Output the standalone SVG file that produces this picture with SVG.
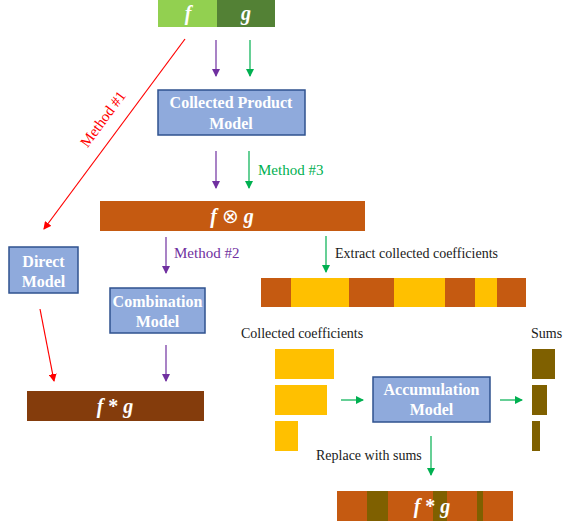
<svg xmlns="http://www.w3.org/2000/svg" width="564" height="524" viewBox="0 0 564 524">
  <style>
    text { font-family: "Liberation Serif", "Times New Roman", serif; }
    .box { fill: #8FAADC; stroke: #2F528F; stroke-width: 1.5; }
    .boxtxt { font-size: 16px; font-weight: bold; fill: #FFFFFF; text-anchor: middle; }
    .math { font-size: 20px; font-weight: bold; font-style: italic; fill: #FFFFFF; text-anchor: middle; }
    .lbl { font-size: 14px; fill: #1A1A1A; }
    .method { font-size: 15px; }
    .red { stroke: #FF0000; stroke-width: 1.2; fill: none; marker-end: url(#ahRed); }
    .pur { stroke: #7030A0; stroke-width: 1.2; fill: none; marker-end: url(#ahPur); }
    .grn { stroke: #00B050; stroke-width: 1.2; fill: none; marker-end: url(#ahGrn); }
    .orange { fill: #C55A11; }
    .yellow { fill: #FFC000; }
    .olive { fill: #7F6000; }
  </style>
  <defs>
    <marker id="ahRed" markerWidth="8" markerHeight="8" refX="7" refY="4" orient="auto" markerUnits="userSpaceOnUse">
      <path d="M0,0 L8,4 L0,8 Z" fill="#FF0000"/>
    </marker>
    <marker id="ahPur" markerWidth="8" markerHeight="8" refX="7" refY="4" orient="auto" markerUnits="userSpaceOnUse">
      <path d="M0,0 L8,4 L0,8 Z" fill="#7030A0"/>
    </marker>
    <marker id="ahGrn" markerWidth="8" markerHeight="8" refX="7" refY="4" orient="auto" markerUnits="userSpaceOnUse">
      <path d="M0,0 L8,4 L0,8 Z" fill="#00B050"/>
    </marker>
  </defs>

  <!-- inputs f and g -->
  <g id="inputs">
    <rect x="158" y="0" width="59" height="27" fill="#92D050"/>
    <rect x="217" y="0" width="58" height="27" fill="#538135"/>
    <text class="math" x="188" y="20">f</text>
    <text class="math" x="246" y="20">g</text>
  </g>

  <g id="collectedProductModel">
    <rect class="box" x="158" y="90" width="147" height="45"/>
    <text class="boxtxt" x="231" y="108">Collected Product</text>
    <text class="boxtxt" x="231" y="129">Model</text>
  </g>

  <g id="collectedProduct">
    <rect class="orange" x="100" y="201" width="265" height="30"/>
    <text x="232" y="223" font-size="20" fill="#FFFFFF" text-anchor="middle"><tspan font-weight="bold" font-style="italic">f</tspan> ⊗ <tspan font-weight="bold" font-style="italic">g</tspan></text>
  </g>

  <g id="directModel">
    <rect class="box" x="9" y="247" width="69" height="46"/>
    <text class="boxtxt" x="43.5" y="267">Direct</text>
    <text class="boxtxt" x="43.5" y="287">Model</text>
  </g>

  <g id="combinationModel">
    <rect class="box" x="110" y="288" width="95" height="45"/>
    <text class="boxtxt" x="157.5" y="307">Combination</text>
    <text class="boxtxt" x="157.5" y="327">Model</text>
  </g>

  <g id="result">
    <rect x="27" y="391" width="177" height="30" fill="#843C0C"/>
    <text class="math" x="115" y="413" font-size="19">f <tspan font-style="normal">*</tspan> g</text>
  </g>

  <g id="extractedCoefficients">
    <rect class="orange" x="261" y="278" width="265" height="29"/>
    <rect class="yellow" x="291" y="278" width="58" height="29"/>
    <rect class="yellow" x="394" y="278" width="51" height="29"/>
    <rect class="yellow" x="475" y="278" width="22" height="29"/>
  </g>

  <g id="collectedCoefficients">
    <text class="lbl" x="241" y="338">Collected coefficients</text>
    <rect class="yellow" x="275" y="349" width="59" height="30"/>
    <rect class="yellow" x="275" y="385" width="52" height="30"/>
    <rect class="yellow" x="275" y="421" width="23" height="30"/>
  </g>

  <g id="accumulationModel">
    <rect class="box" x="373" y="377" width="117" height="45"/>
    <text class="boxtxt" x="431.5" y="395">Accumulation</text>
    <text class="boxtxt" x="431.5" y="415">Model</text>
  </g>

  <g id="sums">
    <text class="lbl" x="531" y="338">Sums</text>
    <rect class="olive" x="532" y="349" width="23" height="30"/>
    <rect class="olive" x="532" y="385" width="15" height="30"/>
    <rect class="olive" x="532" y="421" width="8" height="30"/>
  </g>

  <g id="finalResult">
    <rect class="orange" x="337" y="491" width="176" height="30"/>
    <rect class="olive" x="367" y="491" width="21" height="30"/>
    <rect class="olive" x="433" y="491" width="14" height="30"/>
    <rect class="olive" x="477" y="491" width="6" height="30"/>
    <text class="math" x="432" y="513" font-size="19">f <tspan font-style="normal">*</tspan> g</text>
  </g>

  <!-- connectors and their labels -->
  <g id="connectors">
    <line class="pur" x1="216" y1="40" x2="216" y2="76"/>
    <line class="grn" x1="250" y1="40" x2="250" y2="76"/>
    <line class="pur" x1="216" y1="151" x2="216" y2="188"/>
    <line class="grn" x1="249" y1="151" x2="249" y2="188"/>
    <text class="method" x="258" y="175" fill="#00B050">Method #3</text>

    <line class="red" x1="185" y1="39" x2="44" y2="229"/>
    <text class="method" x="107" y="122" transform="rotate(-53.4 107 122)" fill="#FF0000" text-anchor="middle">Method #1</text>

    <line class="pur" x1="166" y1="237" x2="166" y2="273"/>
    <text class="method" x="174" y="258" fill="#7030A0">Method #2</text>

    <line class="grn" x1="326" y1="236" x2="326" y2="272"/>
    <text class="lbl" x="335" y="258">Extract collected coefficients</text>

    <line class="red" x1="40" y1="309" x2="54" y2="381"/>
    <line class="pur" x1="166" y1="345" x2="166" y2="381"/>

    <line class="grn" x1="341" y1="400" x2="363" y2="400"/>
    <line class="grn" x1="500" y1="400" x2="522" y2="400"/>

    <line class="grn" x1="431" y1="436" x2="431" y2="475"/>
    <text class="lbl" x="316" y="460">Replace with sums</text>
  </g>
</svg>
